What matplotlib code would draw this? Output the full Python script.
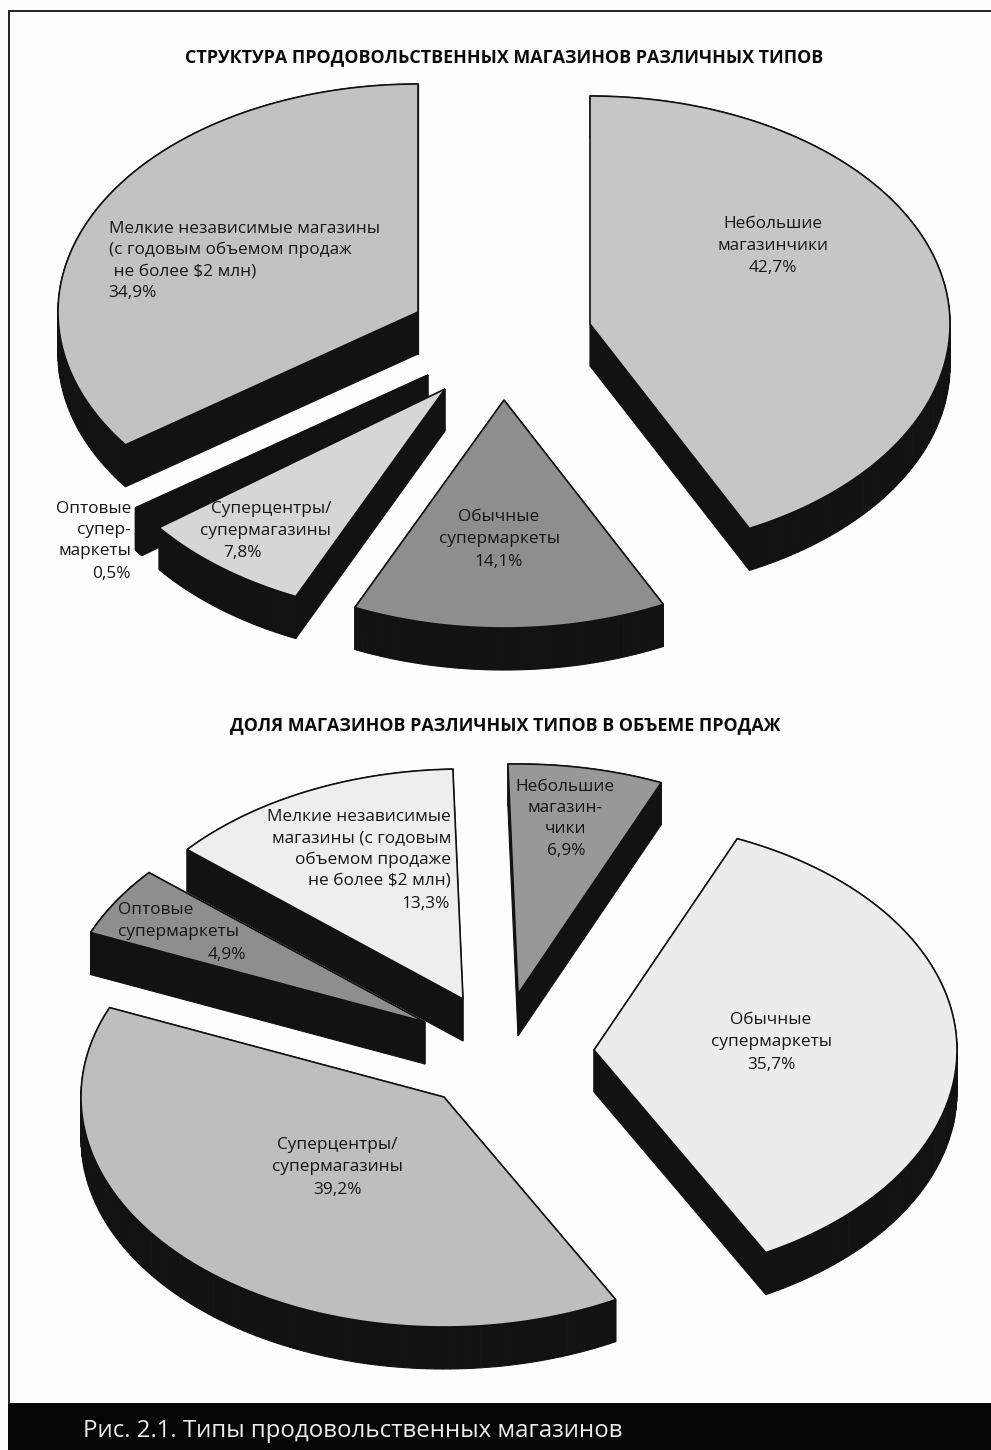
import numpy as np
import matplotlib
matplotlib.use("Agg")
from matplotlib import pyplot as plt
from matplotlib.patches import Polygon, Rectangle

plt.rcParams['font.family'] = ['Open Sans', 'DejaVu Sans']

title1 = "СТРУКТУРА ПРОДОВОЛЬСТВЕННЫХ МАГАЗИНОВ РАЗЛИЧНЫХ ТИПОВ"
names1 = ["Небольшие\nмагазинчики", "Обычные\nсупермаркеты", "Суперцентры/\nсупермагазины",
          "Оптовые\nсупер-\nмаркеты",
          "Мелкие независимые магазины\n(с годовым объемом продаж\n не более $2 млн)"]
values1 = [42.7, 14.1, 7.8, 0.5, 34.9]

title2 = "ДОЛЯ МАГАЗИНОВ РАЗЛИЧНЫХ ТИПОВ В ОБЪЕМЕ ПРОДАЖ"
names2 = ["Небольшие\nмагазин-\nчики", "Обычные\nсупермаркеты", "Суперцентры/\nсупермагазины",
          "Оптовые\nсупермаркеты",
          "Мелкие независимые\nмагазины (с годовым\nобъемом продаже\nне более $2 млн)"]
values2 = [6.9, 35.7, 39.2, 4.9, 13.3]

caption = "Рис. 2.1. Типы продовольственных магазинов"

# layout, pixels of the page
apex1 = [(590, 324), (504, 400), (445, 389), (428, 375), (418, 312)]
start1 = 0
radii1 = (360, 228)
colors1 = ['#c6c6c6', '#8e8e8e', '#d6d6d6', '#121212', '#c2c2c2']
order1 = [4, 3, 2, 0, 1]
# x, y, ha of name and of value for each slice
name_at1 = [(773, 235, 'center'), (499, 528, 'center'), (331, 520, 'right'),
            (131, 530, 'right'), (109, 250, 'left')]
value_at1 = [(773, 268, 'center'), (499, 562, 'center'), (243, 553, 'center'),
             (131, 574, 'right'), (108, 293, 'left')]

apex2 = [(518, 994), (594, 1050), (444, 1097), (425, 1022), (463, 999)]
start2 = -1.6
radii2 = (363, 230)
colors2 = ['#989898', '#ececec', '#bebebe', '#8e8e8e', '#eeeeee']
order2 = [0, 4, 3, 2, 1]
name_at2 = [(565, 808, 'center'), (771, 1031, 'center'), (337, 1156, 'center'),
            (118, 921, 'left'), (451, 849, 'right')]
value_at2 = [(566, 851, 'center'), (771, 1065, 'center'), (337, 1190, 'center'),
             (246, 955, 'right'), (450, 904, 'right')]

depth = 42
side_color = '#121212'


def wedge_points(apex, a0, a1, radii):
    t = np.radians(np.linspace(a0, a1, 120))
    x = apex[0] + radii[0] * np.sin(t)
    y = apex[1] - radii[1] * np.cos(t)
    return np.vstack([[apex], np.column_stack([x, y])])


def draw_pie(ax, values, apexes, start, radii, colors, order):
    edges = start + np.cumsum([0] + values) * 3.6
    for i in order:
        pts = wedge_points(apexes[i], edges[i], edges[i + 1], radii)
        closed = np.vstack([pts, pts[:1]])
        for k in range(len(pts)):
            a, b = closed[k], closed[k + 1]
            quad = [a, b, b + [0, depth], a + [0, depth]]
            ax.add_patch(Polygon(quad, closed=True, fc=side_color, ec=side_color, lw=0.8))
        ax.add_patch(Polygon(pts, closed=True, fc=colors[i], ec='#111111', lw=1.2, joinstyle='miter'))


def draw_labels(ax, names, values, name_at, value_at):
    for name, v, n, p in zip(names, values, name_at, value_at):
        val = f"{v:.1f}".replace('.', ',') + "%"
        ax.text(n[0], n[1], name, ha=n[2], va='center', fontsize=12.4, color='#161616',
                linespacing=1.42, zorder=10)
        ax.text(p[0], p[1], val, ha=p[2], va='center', fontsize=12.4, color='#161616', zorder=10)


fig = plt.figure(figsize=(9.91, 14.5), dpi=100, facecolor='#fdfdfd')
ax = fig.add_axes([0, 0, 1, 1])
ax.set_xlim(0, 991)
ax.set_ylim(1450, 0)
ax.axis('off')

# page frame and caption bar
ax.plot([9, 9], [1403, 11], color='#222222', lw=1.4)
ax.plot([9, 991], [11, 11], color='#222222', lw=1.4)
ax.add_patch(Rectangle((8, 1403), 983, 47, fc='#050505', ec='none'))

draw_pie(ax, values1, apex1, start1, radii1, colors1, order1)
draw_pie(ax, values2, apex2, start2, radii2, colors2, order2)
draw_labels(ax, names1, values1, name_at1, value_at1)
draw_labels(ax, names2, values2, name_at2, value_at2)

ax.text(504, 57, title1, ha='center', va='center', fontsize=12.9, fontweight='bold', color='#0a0a0a')
ax.text(505, 725, title2, ha='center', va='center', fontsize=12.9, fontweight='bold', color='#0a0a0a')
ax.text(83, 1431, caption, ha='left', va='center', fontsize=17.3, color='#ececec')

fig.savefig("out.png", dpi=100, facecolor=fig.get_facecolor())
